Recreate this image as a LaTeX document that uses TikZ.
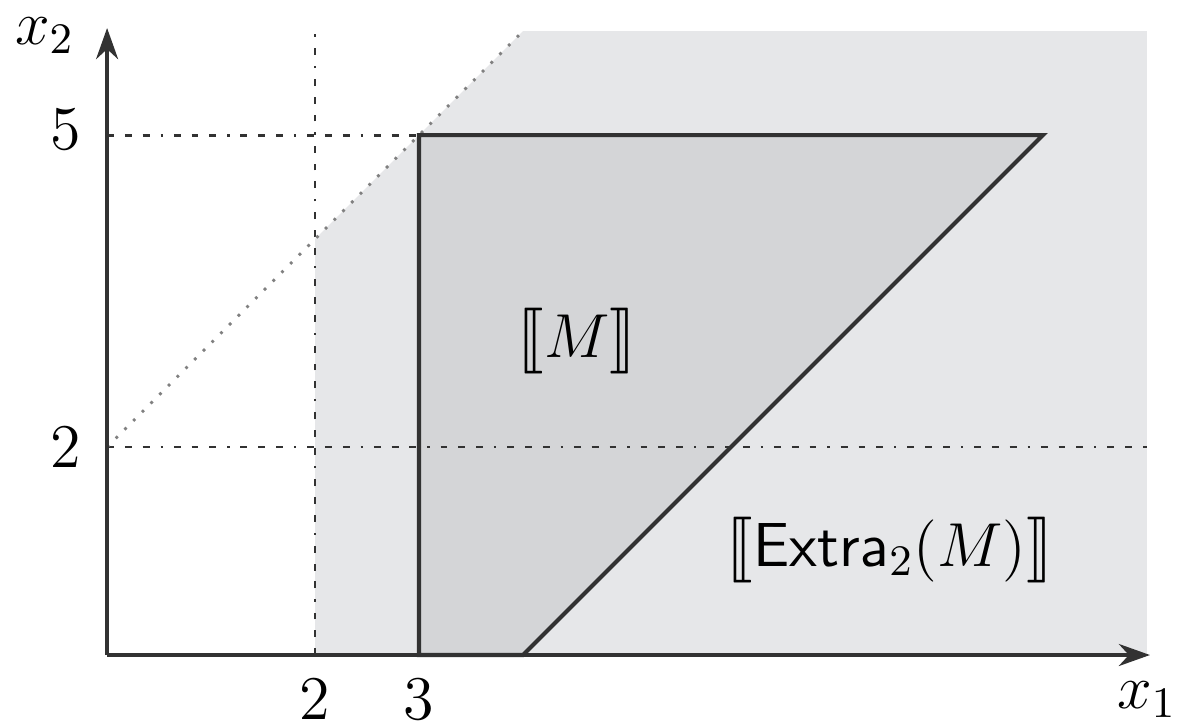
\RequirePackage{fix-cm}
\documentclass[tikz,border=0pt]{standalone}
\usepackage{amsmath,amssymb,stmaryrd}
\usepackage{tikz}
\usetikzlibrary{arrows.meta}

\definecolor{extragray}{RGB}{230,231,233}
\definecolor{mgray}{RGB}{212,213,215}
\definecolor{edgegray}{RGB}{50,50,50}

\tikzset{
  guide/.style={edgegray,line width=0.6pt,dash pattern=on 1.5pt off 2.4pt on 1.5pt off 2.4pt on 1.5pt off 2.4pt on 0.5pt off 2.4pt},
  slope/.style={gray,line width=0.6pt,dash pattern=on 0.6pt off 2.1pt},
  axis/.style={edgegray,line width=0.7pt,-{Stealth[length=2.4mm,width=1.7mm]}},
}

\begin{document}
\begin{tikzpicture}[x=0.8cm,y=0.8cm,font=\fontsize{13.6}{16}\selectfont]
    \useasboundingbox (-1.03,-0.69) rectangle (10.30,6.30);

    % Region of Extra_2(M).
    \fill[extragray] (2,0) -- (2,4) -- (4,6) -- (10,6) -- (10,0) -- cycle;

    % Region of M.
    \fill[mgray] (3,0) -- (3,5) -- (9,5) -- (4,0) -- cycle;

    % Guide lines at x1 = 2 and x2 = 2, 5.
    \draw[guide] (0,5) -- (3,5);
    \draw[guide] (0,2) -- (10,2);
    \draw[guide] (2,0) -- (2,5.97);
    \draw[slope] (0,2) -- (4,6);

    % Border of M.
    \draw[edgegray,line width=0.9pt] (3,0) -- (3,5) -- (9,5) -- (4,0) -- cycle;

    % Axes.
    \coordinate (o) at (0,0);
    \coordinate (xend) at (10.03,0);
    \coordinate (yend) at (0,6.03);
    \draw[axis] (o) -- (xend);
    \draw[axis] (o) -- (yend);
    \node (xlab) at (10.0,-0.43) {$x_1$};
    \node[inner sep=1pt] (ylab) at (-0.6,5.96) {$x_2$};

    % Tick labels.
    \node (tx2) at (2,-0.43) {$2$};
    \node (tx3) at (3,-0.43) {$3$};
    \node (ty2) at (-0.4,2) {$2$};
    \node (ty5) at (-0.4,5.05) {$5$};

    % Region labels.
    \node (mlab) at (4.52,3.02) {$\llbracket M \rrbracket$};
    \node (extralab) at (7.53,1.01) {$\llbracket \mathsf{Extra}_2(M) \rrbracket$};
\end{tikzpicture}
\end{document}
